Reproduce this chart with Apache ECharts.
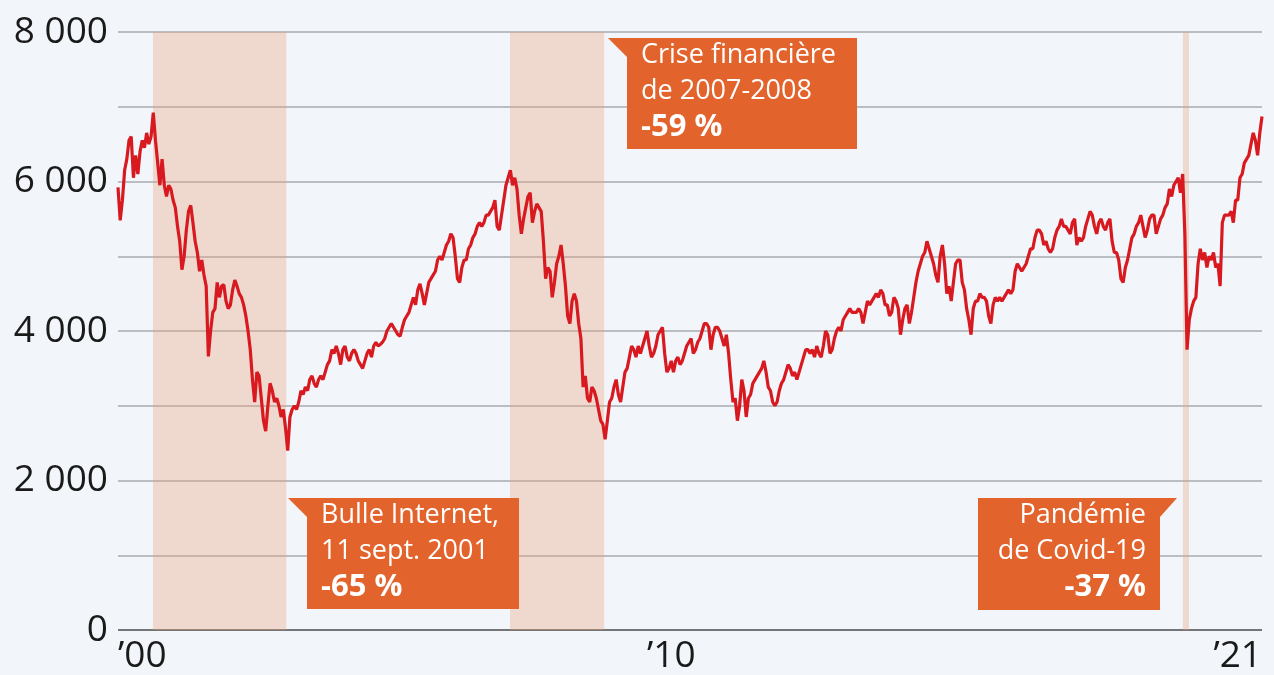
<!DOCTYPE html>
<html>
<head>
<meta charset="utf-8">
<script src="https://cdn.jsdelivr.net/npm/echarts@6/dist/echarts.min.js"></script>
<style>
  html, body { margin: 0; padding: 0; background: #f2f6fa; }
  #chart { width: 1274px; height: 675px; }
</style>
</head>
<body>
<div id="chart"></div>
<script>
// CAC 40, two readings per month (1st and 16th), Jan 2000 – Aug 2021
const startYear = 2000;
const stepsPerYear = 24;
const values = [
  // 2000
  5920, 5480, 5750, 6150, 6300, 6550, 6600, 6050, 6350, 6100, 6400, 6550, 6450, 6650, 6500, 6600, 6920, 6550, 6250, 5950, 6300, 5950, 5800, 5950,
  // 2001
  5900, 5750, 5650, 5400, 5200, 4820, 5000, 5350, 5600, 5680, 5450, 5200, 5050, 4800, 4950, 4750, 4600, 3660, 4000, 4250, 4300, 4650, 4450, 4600,
  // 2002
  4620, 4400, 4300, 4350, 4550, 4680, 4600, 4500, 4450, 4350, 4200, 4000, 3750, 3350, 3050, 3450, 3400, 3100, 2800, 2660, 3000, 3300, 3200, 3050,
  // 2003
  3100, 3000, 2850, 2950, 2700, 2400, 2850, 2950, 3000, 2950, 3050, 3200, 3150, 3250, 3200, 3350, 3400, 3300, 3250, 3350, 3400, 3350, 3450, 3550,
  // 2004
  3600, 3750, 3700, 3800, 3700, 3550, 3750, 3800, 3650, 3600, 3700, 3750, 3700, 3600, 3550, 3500, 3600, 3700, 3750, 3650, 3800, 3850, 3800, 3820,
  // 2005
  3850, 3900, 4000, 4050, 4100, 4050, 4000, 3950, 3930, 4050, 4150, 4200, 4250, 4350, 4450, 4350, 4550, 4630, 4500, 4350, 4500, 4650, 4700, 4750,
  // 2006
  4800, 4950, 5000, 4950, 5050, 5150, 5200, 5300, 5250, 5000, 4700, 4650, 4850, 4950, 4950, 5100, 5150, 5250, 5300, 5400, 5450, 5400, 5450, 5550,
  // 2007
  5550, 5600, 5650, 5750, 5400, 5350, 5550, 5750, 5950, 6050, 6150, 5950, 6050, 5900, 5550, 5300, 5500, 5650, 5800, 5850, 5450, 5600, 5700, 5650,
  // 2008
  5600, 5200, 4700, 4850, 4800, 4450, 4650, 4900, 5000, 5150, 4900, 4600, 4200, 4100, 4400, 4500, 4400, 4100, 3900, 3250, 3400, 3100, 3050, 3250,
  // 2009
  3200, 3100, 2950, 2800, 2750, 2550, 2800, 3050, 3100, 3250, 3350, 3150, 3050, 3250, 3450, 3500, 3650, 3800, 3750, 3650, 3800, 3700, 3800, 3900,
  // 2010
  4000, 3800, 3650, 3700, 3800, 3950, 4000, 4050, 3700, 3450, 3500, 3600, 3450, 3600, 3650, 3550, 3600, 3700, 3800, 3850, 3900, 3700, 3750, 3850,
  // 2011
  3900, 4000, 4100, 4100, 4050, 3750, 3950, 4050, 4050, 4000, 3900, 3800, 3950, 3700, 3350, 3050, 3100, 2800, 3000, 3350, 3200, 2850, 3100, 3150,
  // 2012
  3300, 3350, 3400, 3450, 3500, 3600, 3450, 3250, 3200, 3050, 3000, 3050, 3200, 3300, 3350, 3450, 3550, 3500, 3400, 3450, 3350, 3450, 3550, 3650,
  // 2013
  3750, 3750, 3700, 3750, 3650, 3800, 3700, 3650, 3800, 4000, 3950, 3700, 3750, 3900, 4000, 4050, 4000, 4150, 4200, 4250, 4300, 4250, 4250, 4250,
  // 2014
  4300, 4250, 4100, 4250, 4400, 4350, 4400, 4450, 4500, 4450, 4550, 4500, 4350, 4350, 4200, 4250, 4450, 4400, 4300, 3950, 4150, 4300, 4350, 4100,
  // 2015
  4250, 4450, 4650, 4800, 4900, 5000, 5050, 5200, 5100, 5000, 4900, 4750, 4650, 5000, 5150, 4900, 4500, 4600, 4400, 4650, 4900, 4950, 4950, 4650,
  // 2016
  4550, 4300, 4150, 3950, 4300, 4400, 4400, 4500, 4450, 4450, 4400, 4200, 4100, 4350, 4450, 4400, 4450, 4400, 4450, 4500, 4550, 4500, 4550, 4800,
  // 2017
  4900, 4850, 4800, 4850, 4900, 5000, 5100, 5100, 5250, 5350, 5350, 5300, 5150, 5200, 5100, 5050, 5100, 5250, 5350, 5400, 5500, 5400, 5400, 5350,
  // 2018
  5300, 5450, 5500, 5150, 5250, 5200, 5250, 5400, 5500, 5600, 5550, 5400, 5300, 5450, 5500, 5400, 5350, 5450, 5500, 5200, 5050, 5050, 4950, 4700,
  // 2019
  4650, 4850, 4950, 5100, 5250, 5300, 5400, 5450, 5550, 5400, 5250, 5350, 5500, 5550, 5550, 5300, 5400, 5500, 5550, 5650, 5700, 5900, 5800, 5950,
  // 2020
  6000, 6050, 5850, 6100, 5300, 3750, 4150, 4300, 4400, 4450, 4900, 5100, 4950, 5050, 4850, 5000, 4950, 5050, 4850, 4900, 4600, 5450, 5550, 5550,
  // 2021
  5550, 5600, 5450, 5750, 5750, 6050, 6100, 6250, 6300, 6350, 6500, 6650, 6550, 6350, 6650, 6870
];

// Crisis periods (decimal years)
const crisisStart = [2000.66, 2007.41, 2020.13];
const crisisEnd   = [2003.18, 2009.19, 2020.245];

// Axis labels
const yTickLabels = { 0: '0', 2000: '2 000', 4000: '4 000', 6000: '6 000', 8000: '8 000' };
const xTickLabels = ['’00', '’10', '’21'];

// Annotations
const notes = [
  { lines: ['Bulle Internet,', '11 sept. 2001'], pct: '-65 %' },
  { lines: ['Crise financière', 'de 2007-2008'], pct: '-59 %' },
  { lines: ['Pandémie', 'de Covid-19'], pct: '-37 %' }
];

const seriesData = values.map((v, i) => [startYear + i / stepsPerYear, v]);
const xMax = startYear + (values.length - 1) / stepsPerYear;

const FONT = '"Open Sans", "Noto Sans", sans-serif';
const BOX = '#e2632b';

function noteGraphics(n, box, textX, align, ys) {
  const els = [{
    type: 'polygon', shape: { points: box }, style: { fill: BOX }, z: 100
  }];
  n.lines.forEach((t, k) => els.push({
    type: 'text', z: 101, x: textX, y: ys[k],
    style: { text: t, fill: '#fff', font: '400 27px ' + FONT, align: align, verticalAlign: 'middle' }
  }));
  els.push({
    type: 'text', z: 101, x: textX, y: ys[2],
    style: { text: n.pct, fill: '#fff', font: '700 31px ' + FONT, align: align, verticalAlign: 'middle' }
  });
  return els;
}

const graphics = []
  .concat(noteGraphics(notes[0], [[288,498],[519,498],[519,609],[307,609],[307,517]], 321, 'left', [515, 551, 587]))
  .concat(noteGraphics(notes[1], [[608,38],[857,38],[857,149],[627,149],[627,57]], 641, 'left', [55, 91, 127]))
  .concat(noteGraphics(notes[2], [[978,498],[1177,498],[1160,517],[1160,610],[978,610]], 1146, 'right', [515, 551, 587]));

const chart = echarts.init(document.getElementById('chart'), null, { renderer: 'canvas' });
chart.setOption({
  backgroundColor: '#f2f6fa',
  animation: false,
  grid: { left: 118, right: 12, top: 32, bottom: 42, containLabel: false },
  xAxis: {
    type: 'value',
    min: startYear,
    max: xMax,
    interval: 1,
    axisLine: { show: false },
    axisTick: { show: false },
    splitLine: { show: false },
    axisLabel: {
      show: true,
      showMinLabel: true,
      showMaxLabel: true,
      align: 'left',
      alignMinLabel: 'left',
      alignMaxLabel: 'right',
      margin: 8,
      color: '#1a1a1a',
      fontFamily: FONT,
      fontSize: 37,
      formatter: function (v) {
        if (Math.abs(v - 2000) < 1e-6) return xTickLabels[0];
        if (Math.abs(v - 2010) < 1e-6) return xTickLabels[1];
        if (Math.abs(v - xMax) < 1e-6) return xTickLabels[2];
        return '';
      }
    }
  },
  yAxis: {
    type: 'value',
    min: 0,
    max: 8000,
    interval: 1000,
    axisLine: { show: false },
    axisTick: { show: false },
    splitLine: {
      show: true,
      lineStyle: {
        width: 1.5,
        color: ['#4a4a4a', '#a7abb0', '#a7abb0', '#a7abb0', '#a7abb0', '#a7abb0', '#a7abb0', '#a7abb0', '#a7abb0']
      }
    },
    axisLabel: {
      margin: 10,
      color: '#1a1a1a',
      fontFamily: FONT,
      fontSize: 37,
      formatter: function (v) { return yTickLabels[v] !== undefined ? yTickLabels[v] : ''; }
    }
  },
  series: [{
    type: 'line',
    data: seriesData,
    showSymbol: false,
    symbol: 'none',
    lineStyle: { color: '#d81920', width: 3.2 },
    z: 5,
    markArea: {
      silent: true,
      itemStyle: { color: 'rgba(236,160,124,0.35)' },
      data: crisisStart.map((s, i) => [{ xAxis: s }, { xAxis: crisisEnd[i] }])
    }
  }],
  graphic: graphics
});
</script>
</body>
</html>
